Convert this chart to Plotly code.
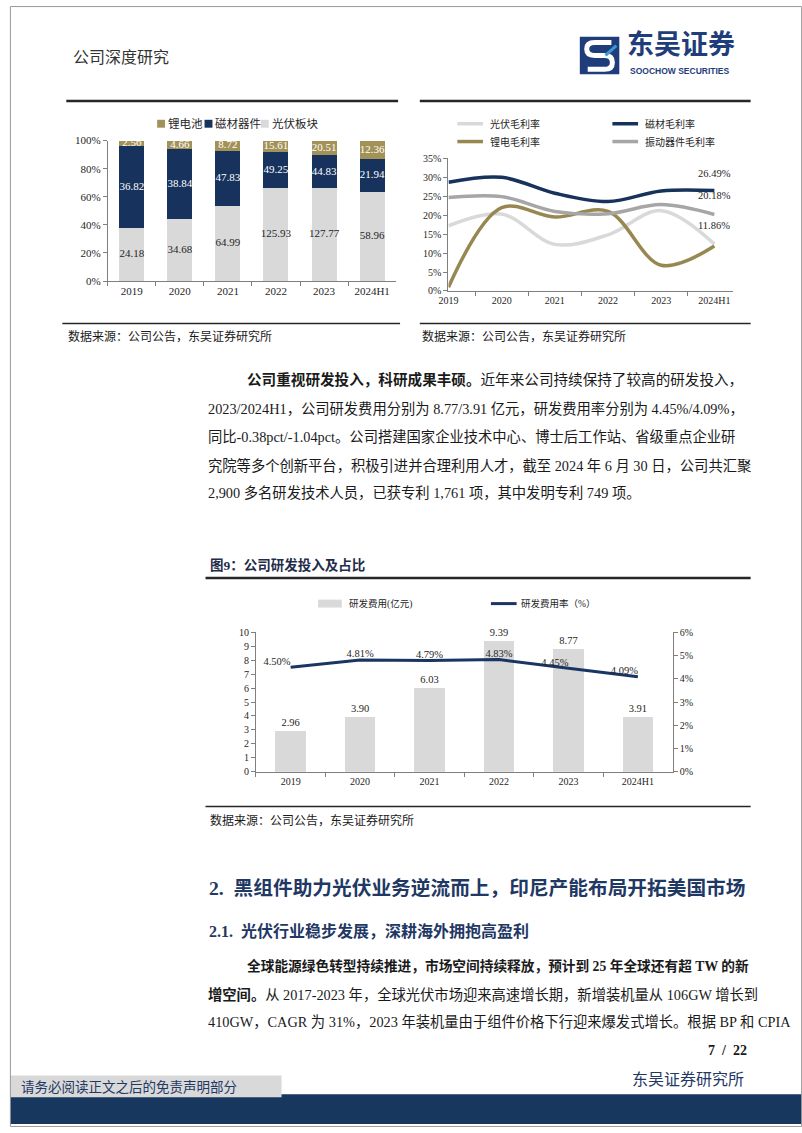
import plotly.graph_objects as go

W, H = 802, 1133


def X(x):
    return x / W


def Y(y):
    return 1 - y / H


NAVY = "#17325c"
GOLD = "#a39257"
OLIVE = "#978750"
LGRAY = "#d9d9d9"
MGRAY = "#a6a6a6"
AXC = "#7f7f7f"
HEAD = "#1f3864"
SERIF = "Liberation Serif, Noto Sans CJK SC"
CJK = "Liberation Serif, Noto Sans CJK SC"

# ---------------- data ----------------
years = ["2019", "2020", "2021", "2022", "2023", "2024H1"]

# chart 1: revenue by segment (亿元)
pv_rev = [24.18, 34.68, 64.99, 125.93, 127.77, 58.96]
mag_rev = [36.82, 38.84, 47.83, 49.25, 44.83, 21.94]
li_rev = [2.56, 4.66, 8.72, 15.61, 20.51, 12.36]

# chart 2: gross margins (%)
pv_gm = [17.2, 20.3, 12.3, 14.8, 21.2, 12.4]
mag_gm = [28.7, 30.0, 25.8, 23.6, 26.4, 26.49]
li_gm = [1.0, 22.0, 19.5, 21.0, 6.8, 11.86]
vib_gm = [24.7, 24.9, 21.0, 20.4, 22.8, 20.18]

# chart 3: R&D
rd_exp = [2.96, 3.90, 6.03, 9.39, 8.77, 3.91]
rd_rate = [4.50, 4.81, 4.79, 4.83, 4.45, 4.09]

fig = go.Figure()

# ---------------- chart 1 ----------------
tot = [a + b + c for a, b, c in zip(pv_rev, mag_rev, li_rev)]
pv_pct = [v / t * 100 for v, t in zip(pv_rev, tot)]
mag_pct = [v / t * 100 for v, t in zip(mag_rev, tot)]
li_pct = [v / t * 100 for v, t in zip(li_rev, tot)]

for vals, col in [(pv_pct, LGRAY), (mag_pct, NAVY), (li_pct, GOLD)]:
    fig.add_trace(go.Bar(x=years, y=vals, marker_color=col, marker_line_width=0,
                         width=0.52, xaxis="x", yaxis="y", showlegend=False,
                         hoverinfo="skip"))

pv_mid = [p / 2 for p in pv_pct]
mag_mid = [p + m / 2 for p, m in zip(pv_pct, mag_pct)]
li_mid = [p + m + l / 2 + (-2.5 if l < 4 else 0) for p, m, l in zip(pv_pct, mag_pct, li_pct)]
for mids, vals, col in [(pv_mid, pv_rev, "#262626"), (mag_mid, mag_rev, "white"),
                        (li_mid, li_rev, "white")]:
    fig.add_trace(go.Scatter(x=years, y=mids, mode="text",
                             text=[f"{v:.2f}" for v in vals],
                             textfont=dict(size=11, color=col, family=SERIF),
                             xaxis="x", yaxis="y", showlegend=False,
                             cliponaxis=False, hoverinfo="skip"))

# ---------------- chart 2 ----------------
for vals, col in [(pv_gm, LGRAY), (mag_gm, NAVY), (li_gm, OLIVE), (vib_gm, MGRAY)]:
    fig.add_trace(go.Scatter(x=years, y=vals, mode="lines",
                             line=dict(color=col, width=3.5, shape="spline", smoothing=1.0),
                             xaxis="x2", yaxis="y2", showlegend=False, hoverinfo="skip"))

# ---------------- chart 3 ----------------
fig.add_trace(go.Bar(x=years, y=rd_exp, marker_color=LGRAY, marker_line_width=0,
                     width=0.44, xaxis="x3", yaxis="y3", showlegend=False,
                     text=[f"{v:.2f}" for v in rd_exp], textposition="outside",
                     textfont=dict(size=10.5, color="#262626", family=SERIF),
                     cliponaxis=False, hoverinfo="skip"))
fig.add_trace(go.Scatter(x=years, y=rd_rate, mode="lines+text",
                         line=dict(color="#1a3563", width=3),
                         text=[f"{v:.2f}%" for v in rd_rate],
                         textposition=["top left", "top center", "top center",
                                       "top center", "top left", "top left"],
                         textfont=dict(size=10.5, color="#262626", family=SERIF),
                         xaxis="x3", yaxis="y4", showlegend=False,
                         cliponaxis=False, hoverinfo="skip"))

# ---------------- axes ----------------
def xax(domain, anchor, size):
    return dict(domain=domain, anchor=anchor, type="category", showline=True,
                linecolor=AXC, linewidth=1, ticks="outside", tickson="boundaries",
                ticklen=4, tickcolor=AXC, showgrid=False, zeroline=False,
                tickfont=dict(size=size, family=SERIF, color="#262626"), fixedrange=True)


def yax(domain, anchor, rng, dtick, suffix, size, side="left"):
    return dict(domain=domain, anchor=anchor, range=rng, dtick=dtick, ticksuffix=suffix,
                showline=True, linecolor=AXC, linewidth=1, ticks="outside", ticklen=4,
                tickcolor=AXC, showgrid=False, zeroline=False, side=side,
                tickfont=dict(size=size, family=SERIF, color="#262626"), fixedrange=True)


layout_axes = dict(
    xaxis=xax([X(99), X(391)], "y", 11),
    yaxis=yax([Y(278), Y(136)], "x", [0, 100], 20, "%", 11),
    xaxis2=xax([X(444), X(732)], "y2", 10),
    yaxis2=yax([Y(288), Y(154)], "x2", [0, 35], 5, "%", 10),
    xaxis3=xax([X(249), X(671)], "y3", 10),
    yaxis3=yax([Y(774), Y(633)], "x3", [0, 10], 1, "", 10),
)
y4 = yax([Y(774), Y(633)], "x3", [0, 6], 1, "%", 10, side="right")
y4["overlaying"] = "y3"
layout_axes["yaxis4"] = y4

# ---------------- shapes & annotations ----------------
shapes = []
ann = []


def line(x0, y0, x1, y1, color="#262626", width=1.0):
    shapes.append(dict(type="line", xref="paper", yref="paper", x0=X(x0), y0=Y(y0),
                       x1=X(x1), y1=Y(y1), line=dict(color=color, width=width)))


def rect(x0, y0, x1, y1, fill, lw=0, lc=None):
    shapes.append(dict(type="rect", xref="paper", yref="paper", x0=X(x0), y0=Y(y0),
                       x1=X(x1), y1=Y(y1), fillcolor=fill,
                       line=dict(width=lw, color=lc or fill), layer="below"))


def txt(x, y, s, size, color="#1a1a1a", anchor="left", family=CJK):
    ann.append(dict(x=X(x), y=Y(y), xref="paper", yref="paper", text=s, showarrow=False,
                    xanchor=anchor, yanchor="middle",
                    font=dict(size=size, color=color, family=family)))


# page border
shapes.append(dict(type="rect", xref="paper", yref="paper", x0=0.0005, y0=0.0005,
                   x1=0.9995, y1=0.9995, line=dict(color="#9a9a9a", width=1)))

# header
txt(62, 52, "公司深度研究", 16, "#333333")
rect(577, 31, 617, 69, "#1f3d7a")
path = "M {},{} L {},{} Q {},{} {},{} Q {},{} {},{} L {},{} Q {},{} {},{} Q {},{} {},{} L {},{}".format(
    X(609), Y(37), X(592), Y(37), X(584), Y(37), X(584), Y(43.5),
    X(584), Y(50), X(592), Y(50), X(602), Y(50), X(610), Y(50), X(610), Y(57),
    X(610), Y(64), X(602), Y(64), X(585), Y(64))
shapes.append(dict(type="path", xref="paper", yref="paper", path=path,
                   line=dict(color="white", width=5)))
shapes.append(dict(type="path", xref="paper", yref="paper",
                   path="M {},{} L {},{}".format(X(603), Y(50), X(614), Y(40)),
                   line=dict(color="#3a9ad9", width=3)))
ann.append(dict(x=X(624), y=Y(58), xref="paper", yref="paper", text="<b>东吴证券</b>",
                showarrow=False, xanchor="left", yanchor="bottom", borderpad=0,
                font=dict(size=27, color="#1f3d7a", family="Noto Sans CJK SC")))
ann.append(dict(x=X(627), y=Y(60), xref="paper", yref="paper",
                text="<b>SOOCHOW SECURITIES</b>", showarrow=False, xanchor="left",
                yanchor="top", borderpad=0,
                font=dict(size=8.5, color="#1f3d7a", family="Liberation Sans")))

# chart 1 frame + legend
line(57, 96, 393, 96, "#262626", 2.5)
for x0, col, lab in [(149, GOLD, "锂电池"), (197, NAVY, "磁材器件"), (254, LGRAY, "光伏板块")]:
    rect(x0, 115, x0 + 8, 123, col)
    txt(x0 + 9, 119, lab, 11.5, "#262626")
line(53, 321, 395, 321, "#262626", 1.5)
txt(57, 334, "数据来源：公司公告，东吴证券研究所", 12, "#1a1a1a")

# chart 2 frame + legend
line(415, 96, 750, 96, "#262626", 2.5)
for (x0, y0, col, lab) in [(453, 119, LGRAY, "光伏毛利率"), (610, 119, NAVY, "磁材毛利率"),
                           (453, 137, OLIVE, "锂电毛利率"), (610, 137, MGRAY, "振动器件毛利率")]:
    line(x0, y0, x0 + 26, y0, col, 3.5)
    txt(x0 + 31, y0, lab, 10, "#262626")
line(415, 321, 750, 321, "#262626", 1.5)
txt(415, 334, "数据来源：公司公告，东吴证券研究所", 12, "#1a1a1a")

# chart 2 end labels
for v, sh in [(mag_gm[-1], 10), (vib_gm[-1], 12), (li_gm[-1], 13)]:
    ann.append(dict(x=years[-1], y=v, xref="x2", yref="y2", text=f"{v:.2f}%",
                    showarrow=False, yshift=sh, xanchor="center", yanchor="bottom",
                    font=dict(size=10.5, color="#262626", family=SERIF)))

# paragraph 1
P = 14.3
txt(238, 378, "<b>公司重视研发投入，科研成果丰硕。</b>近年来公司持续保持了较高的研发投入，", 14.6)
txt(198, 407, "2023/2024H1，公司研发费用分别为 8.77/3.91 亿元，研发费用率分别为 4.45%/4.09%，", P)
txt(198, 435, "同比-0.38pct/-1.04pct。公司搭建国家企业技术中心、博士后工作站、省级重点企业研", P)
txt(198, 464, "究院等多个创新平台，积极引进并合理利用人才，截至 2024 年 6 月 30 日，公司共汇聚", P)
txt(198, 492, "2,900 多名研发技术人员，已获专利 1,761 项，其中发明专利 749 项。", P)

# figure 9
txt(200, 565, "<b>图9：公司研发投入及占比</b>", 13.5, "#1f2d4a")
line(198, 578, 750, 578, "#262626", 2.5)
rect(312, 600, 336, 608, LGRAY)
txt(341, 604, "研发费用(亿元)", 9.5, "#262626")
line(487, 604, 513, 604, "#1a3563", 3)
txt(515, 604, "研发费用率（%）", 9.5, "#262626")
line(198, 809, 750, 809, "#262626", 1.5)
txt(200, 823, "数据来源：公司公告，东吴证券研究所", 12, "#1a1a1a")

# headings
txt(199, 891, "<b>2.  黑组件助力光伏业务逆流而上，印尼产能布局开拓美国市场</b>", 19.7, HEAD)
txt(199, 935, "<b>2.1.  光伏行业稳步发展，深耕海外拥抱高盈利</b>", 16, HEAD)

# paragraph 2
txt(238, 970, "<b>全球能源绿色转型持续推进，市场空间持续释放，预计到 25 年全球还有超 TW 的新</b>", 13.7)
txt(198, 999, "<b>增空间。</b>从 2017-2023 年，全球光伏市场迎来高速增长期，新增装机量从 106GW 增长到", P)
txt(198, 1027, "410GW，CAGR 为 31%，2023 年装机量由于组件价格下行迎来爆发式增长。根据 BP 和 CPIA", P)

# footer
txt(748, 1056, "<b>7  /  22</b>", 14, "#1a1a1a", anchor="right")
txt(745, 1085, "东吴证券研究所", 16, HEAD, anchor="right")
rect(0, 1100, 802, 1130, "#17375e")
rect(0, 1081, 275, 1103, "#d9d9d9")
txt(9, 1093, "请务必阅读正文之后的免责声明部分", 13.5, HEAD)

fig.update_layout(
    width=W, height=H, margin=dict(l=0, r=0, t=0, b=0),
    paper_bgcolor="white", plot_bgcolor="rgba(0,0,0,0)",
    barmode="stack", bargap=0.4, showlegend=False,
    font=dict(family=SERIF, color="#262626"),
    shapes=shapes, annotations=ann,
    **layout_axes,
)

fig.write_html("out.html",
               post_script="document.body.style.margin='0';document.body.style.padding='0';document.body.style.overflow='hidden';")
